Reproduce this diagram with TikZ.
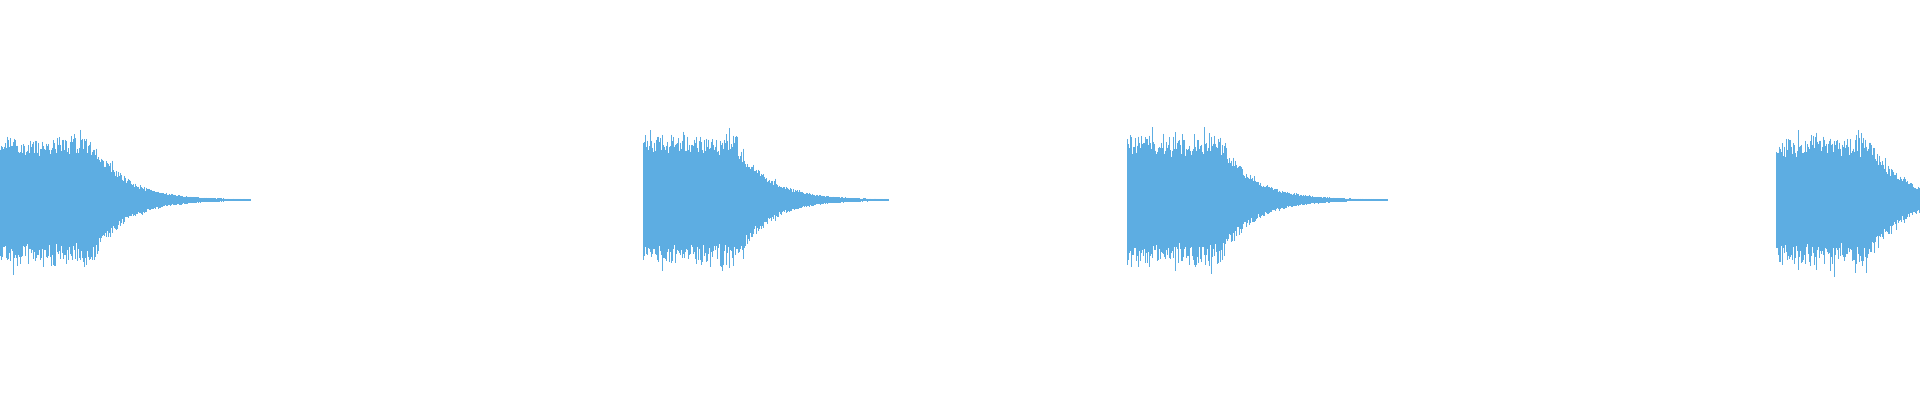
\documentclass[tikz,border=0pt]{standalone}
\usepackage{tikz}
\definecolor{wave}{RGB}{93,173,226}
\tikzset{sample/.style={draw=wave, line width=0.9pt}}
\begin{document}
\begin{tikzpicture}[x=1pt,y=1pt]
\useasboundingbox (0,0) rectangle (1920,400);
\pgfmathsetseed{7}
% one burst per start position
\foreach \s/\len in {0/250, 643/245, 1127/260, 1776/144} {
  \begin{scope}[xshift=\s]
  \foreach \x in {0,1,...,\len} {
    \pgfmathsetmacro{\env}{\x<95 ? 58+8*rnd : 58*exp(-(\x-95)/32)}
    \pgfmathsetmacro{\kick}{rnd>0.92 ? 1.15 : 1}
    \pgfmathsetmacro{\up}{\env*(0.72+0.3*rnd)*\kick+0.5}
    \pgfmathsetmacro{\dn}{\env*(0.72+0.3*rnd)*\kick+0.5}
    \draw[sample] (\x,200+\up) -- (\x,200-\dn);
  }
  \end{scope}
}
\end{tikzpicture}
\end{document}
